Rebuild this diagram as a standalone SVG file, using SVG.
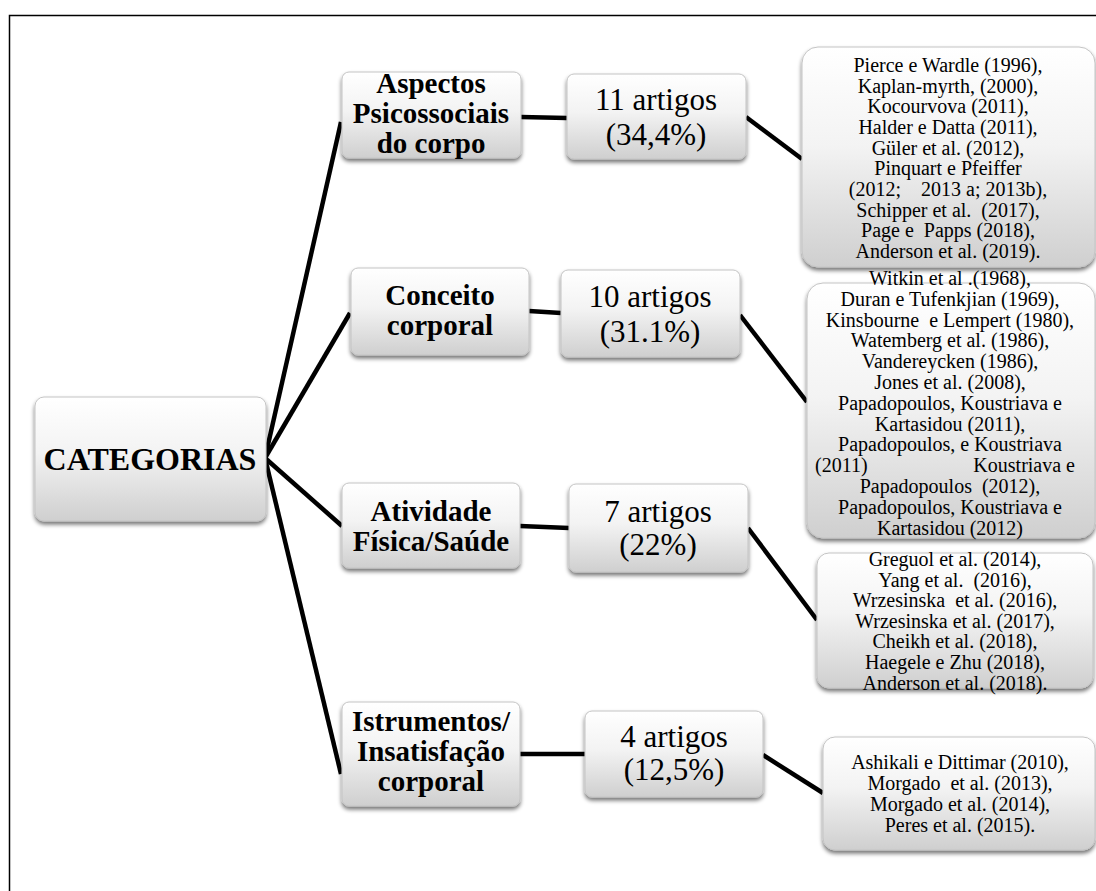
<svg xmlns="http://www.w3.org/2000/svg" width="1096" height="891" viewBox="0 0 1096 891">
  <defs>
    <linearGradient id="g" x1="0" y1="0" x2="0" y2="1">
      <stop offset="0" stop-color="#ffffff"/>
      <stop offset="0.45" stop-color="#f3f3f3"/>
      <stop offset="1" stop-color="#cfcfcf"/>
    </linearGradient>
    <filter id="sh" x="-10%" y="-10%" width="120%" height="130%">
      <feGaussianBlur in="SourceAlpha" stdDeviation="2"/>
      <feOffset dx="0" dy="3" result="o"/>
      <feComponentTransfer><feFuncA type="linear" slope="0.55"/></feComponentTransfer>
      <feMerge><feMergeNode/><feMergeNode in="SourceGraphic"/></feMerge>
    </filter>
    <style>
      text{font-family:'Liberation Serif','Times New Roman',serif;fill:#000;text-anchor:middle}
      .box{fill:url(#g);stroke:#c4c4c4;stroke-width:1;filter:url(#sh)}
      .conn{stroke:#000;stroke-width:4.5;fill:none;stroke-linecap:butt}
      .cat{font-weight:bold;font-size:29px}
      .root{font-weight:bold;font-size:32px}
      .cnt{font-size:31px}
      .ref{font-size:20px}
    </style>
  </defs>
  <rect x="0" y="0" width="1096" height="891" fill="#ffffff"/>
  <rect x="9.5" y="15.5" width="1200" height="1000" fill="none" stroke="#000" stroke-width="1.5"/>

  <g id="connectors">
    <path class="conn" d="M265 458 L341 122"/>
    <path class="conn" d="M265 458 L350 313"/>
    <path class="conn" d="M265 458 L342 526"/>
    <path class="conn" d="M265 458 L341 774"/>
    <path class="conn" d="M521 117 L567 118"/>
    <path class="conn" d="M529 311 L561 313"/>
    <path class="conn" d="M520 526 L569 528"/>
    <path class="conn" d="M520 754 L585 754"/>
    <path class="conn" d="M746 117 L802 159"/>
    <path class="conn" d="M740 315 L807 402"/>
    <path class="conn" d="M748 528 L817 620"/>
    <path class="conn" d="M763 755 L823 793"/>
  </g>

  <g id="categorias">
    <rect class="box" x="35" y="397" width="231" height="124" rx="9"/>
    <text class="root" x="150" y="470">CATEGORIAS</text>
  </g>

  <g id="aspectos">
    <rect class="box" x="342" y="72" width="179" height="86" rx="7"/>
    <text class="cat" x="431" y="93">Aspectos</text>
    <text class="cat" x="431" y="123">Psicossociais</text>
    <text class="cat" x="431" y="153">do corpo</text>
  </g>

  <g id="conceito">
    <rect class="box" x="351" y="268" width="178" height="87" rx="7"/>
    <text class="cat" x="440" y="305">Conceito</text>
    <text class="cat" x="440" y="335">corporal</text>
  </g>

  <g id="atividade">
    <rect class="box" x="342" y="483" width="178" height="85" rx="7"/>
    <text class="cat" x="431" y="521">Atividade</text>
    <text class="cat" x="431" y="551">Física/Saúde</text>
  </g>

  <g id="istrumentos">
    <rect class="box" x="342" y="702" width="178" height="104" rx="7"/>
    <text class="cat" x="431" y="731">Istrumentos/</text>
    <text class="cat" x="431" y="761">Insatisfação</text>
    <text class="cat" x="431" y="791">corporal</text>
  </g>

  <g id="n11">
    <rect class="box" x="567" y="74" width="179" height="85" rx="7"/>
    <text class="cnt" x="656" y="110">11 artigos</text>
    <text class="cnt" x="656" y="145">(34,4%)</text>
  </g>

  <g id="n10">
    <rect class="box" x="561" y="270" width="179" height="87" rx="7"/>
    <text class="cnt" x="650" y="307">10 artigos</text>
    <text class="cnt" x="650" y="342">(31.1%)</text>
  </g>

  <g id="n7">
    <rect class="box" x="569" y="484" width="179" height="88" rx="7"/>
    <text class="cnt" x="658" y="522">7 artigos</text>
    <text class="cnt" x="658" y="555">(22%)</text>
  </g>

  <g id="n4">
    <rect class="box" x="585" y="711" width="178" height="86" rx="7"/>
    <text class="cnt" x="674" y="747">4 artigos</text>
    <text class="cnt" x="674" y="780">(12,5%)</text>
  </g>

  <g id="refs1">
    <rect class="box" x="802" y="47" width="293" height="220" rx="16"/>
    <text class="ref" x="948" y="72">Pierce e Wardle (1996),</text>
    <text class="ref" x="948" y="92.7">Kaplan-myrth, (2000),</text>
    <text class="ref" x="948" y="113.3">Kocourvova (2011),</text>
    <text class="ref" x="948" y="134">Halder e Datta (2011),</text>
    <text class="ref" x="948" y="154.7">Güler et al. (2012),</text>
    <text class="ref" x="948" y="175.3">Pinquart e Pfeiffer</text>
    <text class="ref" x="948" y="196" xml:space="preserve">(2012;    2013 a; 2013b),</text>
    <text class="ref" x="948" y="216.7" xml:space="preserve">Schipper et al.  (2017),</text>
    <text class="ref" x="948" y="237.3" xml:space="preserve">Page e  Papps (2018),</text>
    <text class="ref" x="948" y="258">Anderson et al. (2019).</text>
  </g>

  <g id="refs2">
    <rect class="box" x="807" y="283" width="288" height="255" rx="16"/>
    <text class="ref" x="950" y="285">Witkin et al .(1968),</text>
    <text class="ref" x="950" y="305.8">Duran e Tufenkjian (1969),</text>
    <text class="ref" x="950" y="326.6" xml:space="preserve">Kinsbourne  e Lempert (1980),</text>
    <text class="ref" x="950" y="347.4">Watemberg et al. (1986),</text>
    <text class="ref" x="950" y="368.2">Vandereycken (1986),</text>
    <text class="ref" x="950" y="389">Jones et al. (2008),</text>
    <text class="ref" x="950" y="409.8">Papadopoulos, Koustriava e</text>
    <text class="ref" x="950" y="430.6">Kartasidou (2011),</text>
    <text class="ref" x="950" y="451.4">Papadopoulos, e Koustriava</text>
    <text class="ref" x="815" y="472.2" style="text-anchor:start">(2011)</text>
    <text class="ref" x="1075" y="472.2" style="text-anchor:end">Koustriava e</text>
    <text class="ref" x="950" y="493" xml:space="preserve">Papadopoulos  (2012),</text>
    <text class="ref" x="950" y="513.8">Papadopoulos, Koustriava e</text>
    <text class="ref" x="950" y="534.6">Kartasidou (2012)</text>
  </g>

  <g id="refs3">
    <rect class="box" x="817" y="553" width="276" height="135" rx="12"/>
    <text class="ref" x="955" y="566">Greguol et al. (2014),</text>
    <text class="ref" x="955" y="586.6" xml:space="preserve">Yang et al.  (2016),</text>
    <text class="ref" x="955" y="607.2" xml:space="preserve">Wrzesinska  et al. (2016),</text>
    <text class="ref" x="955" y="627.8">Wrzesinska et al. (2017),</text>
    <text class="ref" x="955" y="648.4">Cheikh et al. (2018),</text>
    <text class="ref" x="955" y="669">Haegele e Zhu (2018),</text>
    <text class="ref" x="955" y="689.6">Anderson et al. (2018).</text>
  </g>

  <g id="refs4">
    <rect class="box" x="823" y="737" width="272" height="113" rx="12"/>
    <text class="ref" x="960" y="769">Ashikali e Dittimar (2010),</text>
    <text class="ref" x="960" y="790" xml:space="preserve">Morgado  et al. (2013),</text>
    <text class="ref" x="960" y="811">Morgado et al. (2014),</text>
    <text class="ref" x="960" y="832">Peres et al. (2015).</text>
  </g>
</svg>
